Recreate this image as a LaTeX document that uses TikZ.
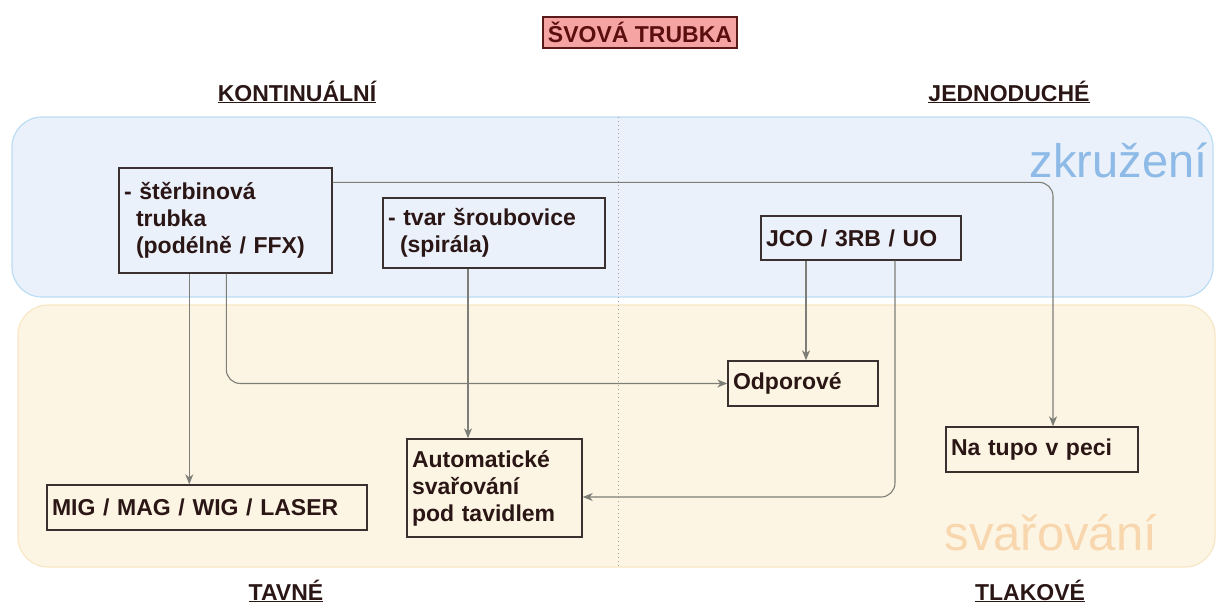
\documentclass[tikz,border=0pt]{standalone}
\usepackage{fontspec}
\setmainfont{Liberation Sans}
\usetikzlibrary{arrows.meta,calc}
\definecolor{txt}{HTML}{2B1616}
\definecolor{boxline}{HTML}{3A3030}
\definecolor{conn}{HTML}{7E7E78}
\definecolor{bluefill}{HTML}{EBF1FA}
\definecolor{blueline}{HTML}{BBDDF3}
\definecolor{orfill}{HTML}{FDF5E3}
\definecolor{orline}{HTML}{F8E6C4}
\definecolor{bluetxt}{HTML}{8DBAE6}
\definecolor{ortxt}{HTML}{F8D6AE}
\definecolor{titlefill}{HTML}{F6A3A3}
\definecolor{titleline}{HTML}{5A1A1A}
\definecolor{titletxt}{HTML}{5A0E0E}
\begin{document}
\begin{tikzpicture}[x=1pt,y=-1pt,
  box/.style={draw=boxline, line width=1.4pt, inner xsep=5pt, inner ysep=0pt,
    align=left, font=\bfseries\fontsize{23}{27}\selectfont, text=txt},
  head/.style={anchor=base, font=\bfseries\fontsize{23}{27}\selectfont, text=txt},
  arr/.style={draw=conn, line width=1.1pt, -{Stealth[length=10pt,width=8pt,inset=3pt]}},
  lane/.style={line width=1.2pt, rounded corners=30pt},
  bigblue/.style={font=\fontsize{47}{50}\selectfont, text=bluetxt},
  bigor/.style={font=\fontsize{49}{52}\selectfont, text=ortxt}]
\useasboundingbox (0,0) rectangle (1216,608);

% lanes
\draw[lane, draw=blueline, fill=bluefill] (12,117) rectangle (1213,297);
\draw[lane, draw=orline, fill=orfill] (18,305) rectangle (1215,567);
\draw[conn!70, line width=1pt, dash pattern=on 1pt off 3pt] (618,117) -- (618,567);

\node[bigblue, anchor=base east] (zk) at (1211,177) {zkružení};
\node[bigor, anchor=base west] (sv) at (941,550) {svařování};

% title and headers
\node[draw=titleline, line width=1.4pt, fill=titlefill, minimum width=194, minimum height=31,
  inner sep=0pt, font=\bfseries\fontsize{23}{27}\selectfont, text=titletxt] (title) at (640,32.5) {ŠVOVÁ TRUBKA};
\node[head] (kont) at (297,101) {\underline{KONTINUÁLNÍ}};
\node[head] (jedn) at (1009,101) {\underline{JEDNODUCHÉ}};
\node[head] (tavn) at (286,600) {\underline{TAVNÉ}};
\node[head] (tlak) at (1030,600) {\underline{TLAKOVÉ}};

% boxes
\node[box, text width=203, minimum height=105] (A) at (225.5,220.5)
  {- štěrbinová\\\hspace*{12pt}trubka\\\hspace*{12pt}(podélně / FFX)};
\node[box, text width=212, minimum height=70] (B) at (494,233)
  {- tvar šroubovice\\\hspace*{12pt}(spirála)};
\node[box, text width=190, minimum height=44] (C) at (861,238) {JCO / 3RB / UO};
\node[box, text width=140, minimum height=45] (O) at (803,383.5) {Odporové};
\node[box, text width=182, minimum height=45] (N) at (1042,449.5) {Na tupo v peci};
\node[box, text width=165, minimum height=98] (S) at (494.5,488)
  {Automatické\\svařování\\pod tavidlem};
\node[box, text width=310, minimum height=45] (M) at (207,507.5) {MIG / MAG / WIG / LASER};

% connectors
\draw[arr] ([xshift=71pt]A.south west) -- ([xshift=71pt]A.south west |- M.north);
\draw[arr, rounded corners=14pt] ([xshift=108pt]A.south west) |- (O.west);
\draw[arr, rounded corners=14pt] ([yshift=-15pt]A.north east) -| ([xshift=11pt]N.north);
\draw[arr] ([xshift=-26pt]B.south) -- ([xshift=-26pt]B.south |- S.north);
\draw[arr] ([xshift=-55pt]C.south) -- ([xshift=-55pt]C.south |- O.north);
\draw[arr, rounded corners=14pt] ([xshift=34pt]C.south) |- ([yshift=-9pt]S.east);
\end{tikzpicture}
\end{document}
